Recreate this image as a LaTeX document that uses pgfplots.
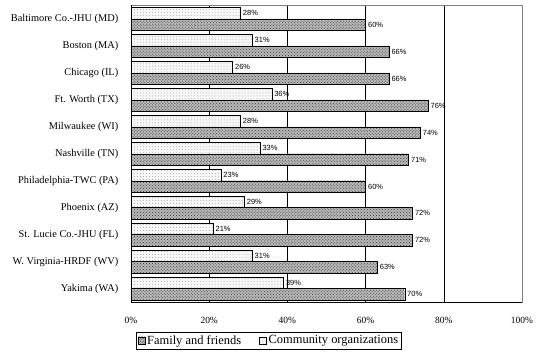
\documentclass[border=0pt]{standalone}
\usepackage{pgfplots}
\pgfplotsset{compat=1.18}
\usepackage{fontspec}
\setmainfont{Liberation Serif}
\newfontfamily\lblfont{Liberation Sans}
\usetikzlibrary{patterns}

\begin{document}
\begin{tikzpicture}[x=1bp,y=1bp]
\begin{axis}[
  scale only axis,
  width=391bp, height=296.5bp,
  xbar, bar width=11.5bp,
  xmin=0, xmax=100,
  ymin=-0.5, ymax=10.5,
  xtick={0,20,...,100},
  xticklabel={\pgfmathprintnumber{\tick}\%},
  /pgf/number format/assume math mode=true,
  ytick={0,...,10},
  yticklabels={Yakima (WA), W. Virginia-HRDF (WV), St. Lucie Co.-JHU (FL), Phoenix (AZ),
    Philadelphia-TWC (PA), Nashville (TN), Milwaukee (WI), Ft. Worth (TX),
    Chicago (IL), Boston (MA), Baltimore Co.-JHU (MD)},
  ytick style={draw=none},
  xtick style={draw=none},
  extra y ticks={-0.5,0.5,...,10.5},
  extra y tick labels={},
  extra y tick style={tick style={draw=black}, major tick length=6bp, tick align=outside, yticklabel=\empty},
  xmajorgrids, grid style={black, line width=0.6pt},
  axis line style={gray, line width=0.6pt},
  xticklabel style={font=\fontsize{9.5}{10}\selectfont, yshift=-12bp},
  yticklabel style={font=\fontsize{10.4}{11}\selectfont, xshift=-5bp},
  nodes near coords={\pgfmathprintnumber{\pgfplotspointmeta}\%},
  nodes near coords style={font=\lblfont\fontsize{7.5}{8}\selectfont, anchor=west, xshift=-1bp},
  legend columns=2,
  legend style={at={(axis description cs:0.013,-0.1)}, anchor=north west,
    draw=black, font=\fontsize{12.5}{13}\selectfont, inner sep=1.5bp,
    /tikz/every odd column/.append style={column sep=0bp},
    /tikz/every even column/.append style={column sep=16bp}},
  area legend,
  legend image code/.code={\draw[#1] (0bp,-3.5bp) rectangle (7bp,3.5bp);},
]
\addplot[draw=black, fill=gray!55, postaction={pattern=crosshatch dots, pattern color=black!80}, bar shift=-5.75bp]
  coordinates {(70,0) (63,1) (72,2) (72,3) (60,4) (71,5) (74,6) (76,7) (66,8) (66,9) (60,10)};
\addlegendentry{Family and friends}
\addplot[draw=black, fill=gray!6, postaction={pattern=dots, pattern color=gray!70}, bar shift=5.75bp]
  coordinates {(39,0) (31,1) (21,2) (29,3) (23,4) (33,5) (28,6) (36,7) (26,8) (31,9) (28,10)};
\addlegendentry{Community organizations}
\draw[black, line width=0.6pt] (rel axis cs:0,1) -- (rel axis cs:0,0) -- (rel axis cs:1,0);
\coordinate (sw) at (rel axis cs:0,0);
\coordinate (ne) at (rel axis cs:1,1);
\end{axis}
\pgfresetboundingbox
\useasboundingbox ([shift={(-131bp,-51bp)}]sw) rectangle ([shift={(19bp,5.5bp)}]ne);
\end{tikzpicture}
\end{document}
